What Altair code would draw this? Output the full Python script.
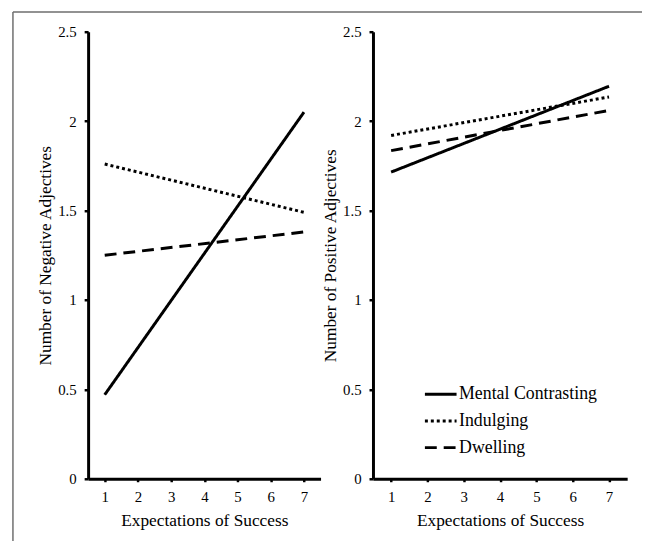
import altair as alt
import pandas as pd

# ---- data ----
x_points = [1, 7]
conditions = ["Mental Contrasting", "Indulging", "Dwelling"]
neg_start = [0.47, 1.76, 1.25]
neg_end = [2.05, 1.49, 1.38]
pos_start = [1.715, 1.92, 1.835]
pos_end = [2.195, 2.135, 2.06]
x_ticks = [1, 2, 3, 4, 5, 6, 7]
y_ticks = [0, 0.5, 1, 1.5, 2, 2.5]
dash_patterns = [[1, 0], [3, 3], [12, 7]]

FONT = "'Times New Roman', 'Liberation Serif', 'DejaVu Serif', serif"


def make_df(starts, ends):
    rows = []
    for c, s, e in zip(conditions, starts, ends):
        rows.append({"cond": c, "x": x_points[0], "y": s})
        rows.append({"cond": c, "x": x_points[1], "y": e})
    return pd.DataFrame(rows)


neg_df = make_df(neg_start, neg_end)
pos_df = make_df(pos_start, pos_end)

x_enc = alt.X(
    "x:Q",
    scale=alt.Scale(domain=[0.5, 7.5], nice=False, zero=False),
    axis=alt.Axis(values=x_ticks, title="Expectations of Success", format="d",
                  tickSize=3, labelPadding=8, titlePadding=7),
)


def y_enc(title):
    return alt.Y(
        "y:Q",
        scale=alt.Scale(domain=[0, 2.5], nice=False, zero=True),
        axis=alt.Axis(values=y_ticks, title=title, format="~g",
                      tickSize=4, labelPadding=8, titlePadding=3),
    )


def dash_enc(legend):
    return alt.StrokeDash(
        "cond:N",
        scale=alt.Scale(domain=conditions, range=dash_patterns),
        sort=conditions,
        legend=legend,
    )


left_lines = alt.Chart(neg_df).mark_line(color="black", strokeWidth=3, strokeCap="butt").encode(
    x=x_enc, y=y_enc("Number of Negative Adjectives"), strokeDash=dash_enc(None), detail="cond:N"
)

frame_data = alt.Chart(pd.DataFrame({"a": [0]}))
frame_left = frame_data.mark_rule(color="#6e6e6e", strokeWidth=1.5).encode(
    x=alt.value(-76), y=alt.value(-20), y2=alt.value(515)
)
frame_top = frame_data.mark_rule(color="#6e6e6e", strokeWidth=1.5).encode(
    x=alt.value(-76), x2=alt.value(560), y=alt.value(-20)
)

left = alt.layer(frame_left, frame_top, left_lines).properties(width=235, height=452)

legend = alt.Legend(
    title=None, orient="none", legendX=51, legendY=349,
    symbolType="stroke", symbolSize=1024, symbolStrokeWidth=3,
    symbolStrokeColor="black", labelFont=FONT, labelFontSize=18,
    labelColor="black", labelOffset=1, labelLimit=300, rowPadding=0, padding=0,
)

right = alt.Chart(pos_df).mark_line(color="black", strokeWidth=3, strokeCap="butt").encode(
    x=x_enc, y=y_enc("Number of Positive Adjectives"), strokeDash=dash_enc(legend), detail="cond:N"
).properties(width=257, height=452)

chart = (
    alt.hconcat(left, right, spacing=53, bounds="flush")
    .resolve_scale(strokeDash="independent")
    .resolve_legend(strokeDash="independent")
    .properties(padding={"left": 4, "top": 0, "right": 0, "bottom": 2})
    .configure_view(stroke=None)
    .configure_axis(
        grid=False, domainColor="black", domainWidth=3, tickColor="black", tickWidth=2.5,
        labelFont=FONT, labelFontSize=15, labelColor="black",
        titleFont=FONT, titleFontSize=17.5, titleColor="black", titleFontWeight="normal",
    )
)

chart.save("out.html", embed_options={"renderer": "svg", "actions": False})
